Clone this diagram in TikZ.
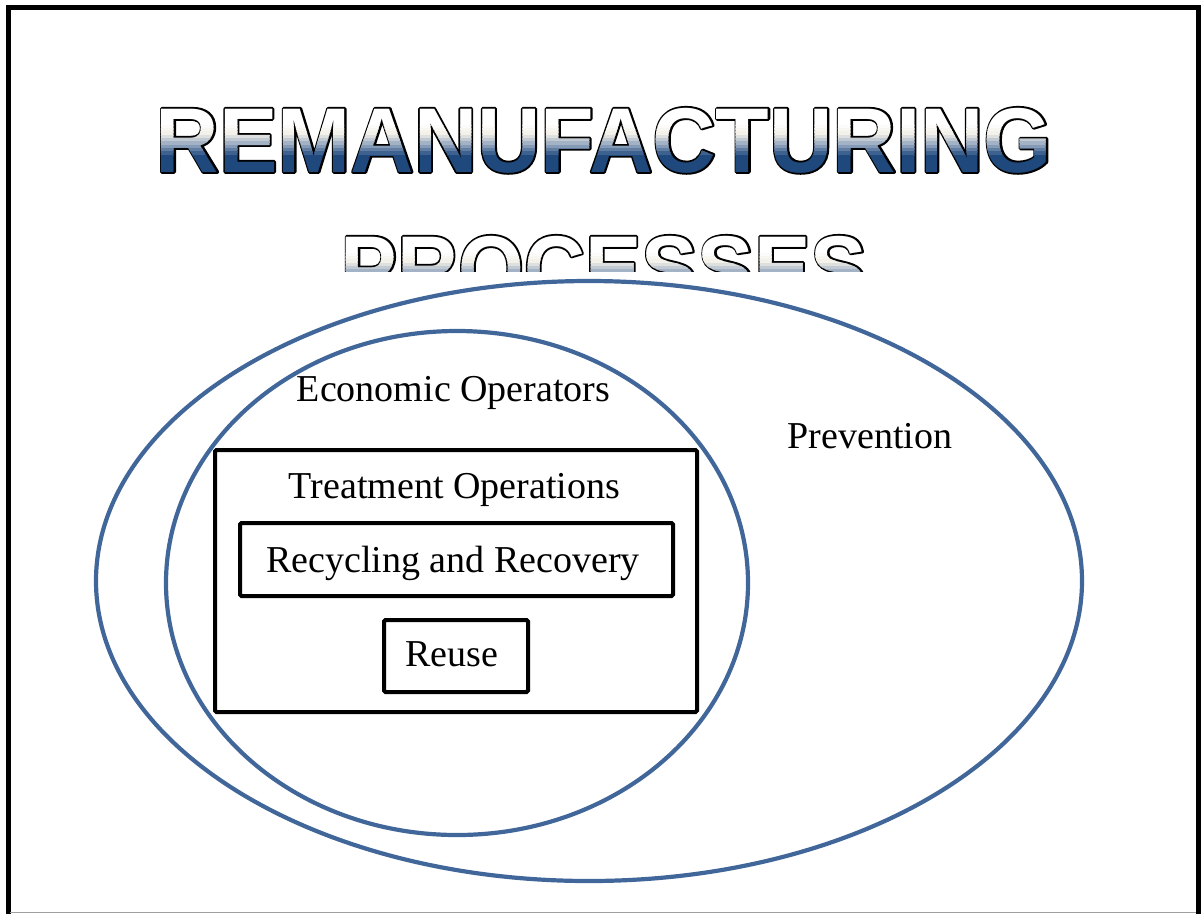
\documentclass[tikz,border=0pt]{standalone}
\usepackage{fontspec}
\setmainfont{Liberation Serif}
\newfontfamily\titlefont{Liberation Sans Bold}
\newfontfamily\titleoutlinefont{Liberation Sans Bold}[FakeBold=4]

\definecolor{ellblue}{HTML}{41679A}
\definecolor{navyc}{HTML}{1F497D}
\definecolor{framegray}{HTML}{A0A0A0}
\definecolor{tgA}{HTML}{FCFBF9}
\definecolor{tgB}{HTML}{F8F6F1}
\definecolor{tgC}{HTML}{F4F1EA}
\definecolor{tgD}{HTML}{DEE0DF}
\definecolor{tgE}{HTML}{C1C9D2}
\definecolor{tgF}{HTML}{A3B2C5}
\definecolor{tgG}{HTML}{849AB6}
\definecolor{tgH}{HTML}{617EA2}
\definecolor{tgI}{HTML}{3E628F}

\newcommand\RemTitle{\scalebox{0.953}[1]{REMANUFACTURING}}
\newcommand\ProcTitle{\scalebox{0.919}[1]{PROCESSES}}

\tikzset{
  titletext/.style={font=\titlefont\fontsize{92}{100}\selectfont, inner sep=0pt, outer sep=0pt},
  titleoutline/.style={font=\titleoutlinefont\fontsize{92}{100}\selectfont, inner sep=0pt, outer sep=0pt, text=black, line join=round},
  labeltext/.style={font=\fontsize{38}{44}\selectfont, inner sep=0pt, anchor=base},
  ellline/.style={draw=ellblue, line width=4.2pt},
  boxline/.style={draw=black, line width=4pt, rounded corners=1.5pt},
  framestyle/.style={draw=black, line width=5pt}
}

% #1 text, #2 x, #3 baseline y, #4 cap-top y, #5 name prefix
\newcommand\gradtitle[5]{%
  \foreach \fa/\fb/\col in {-0.4/0.30/white, 0.30/0.35/tgA, 0.35/0.40/tgB,
      0.40/0.45/tgC, 0.45/0.50/tgD, 0.50/0.55/tgE, 0.55/0.60/tgF,
      0.60/0.65/tgG, 0.65/0.70/tgH, 0.70/0.75/tgI, 0.75/1.40/navyc} {
    \begin{scope}
      \clip (0,{#4+(\fa)*(#3-#4)}) rectangle (1204,{#4+(\fb)*(#3-#4)+0.7});
      \node[titletext, anchor=base, text=\col] (#5-\col) at (#2,#3) {#1};
    \end{scope}
  }%
}

\begin{document}
\begin{tikzpicture}[x=1pt, y=-1pt]
  \useasboundingbox (0,0) rectangle (1204,914);
  \fill[white] (0,0) rectangle (1204,914);

  % frame
  \draw[framestyle] (8,914) -- (8,7.5) -- (1198.5,7.5) -- (1198.5,914);
  \draw[framegray, line width=1.2pt] (10,912.5) -- (1196,912.5);

  % title line 1
  \node[titleoutline, anchor=base] (remout) at (604,172) {\RemTitle};
  \gradtitle{\RemTitle}{604}{172}{105}{rem}

  % title line 2 (cut off)
  \begin{scope}
    \clip (0,0) rectangle (1204,271);
    \node[titleoutline, anchor=base] (procout) at (604,300) {\ProcTitle};
    \gradtitle{\ProcTitle}{604}{300}{233}{proc}
  \end{scope}

  % ellipses
  \draw[ellline] (589,581) ellipse [x radius=493pt, y radius=300pt];
  \draw[ellline] (457,583) ellipse [x radius=291pt, y radius=252pt];

  % boxes
  \draw[boxline] (215,450) rectangle (697,712);
  \draw[boxline] (240,523) rectangle (673,596);
  \draw[boxline] (384,620) rectangle (528,692);

  % labels
  \node[labeltext] (econ) at (453.5,401) {Economic Operators};
  \node[labeltext] (treat) at (454.5,498) {Treatment Operations};
  \node[labeltext] (recyc) at (453,572) {Recycling and Recovery};
  \node[labeltext] (reuse) at (452,666) {Reuse};
  \node[labeltext] (prev) at (870,448) {Prevention};
\end{tikzpicture}
\end{document}
